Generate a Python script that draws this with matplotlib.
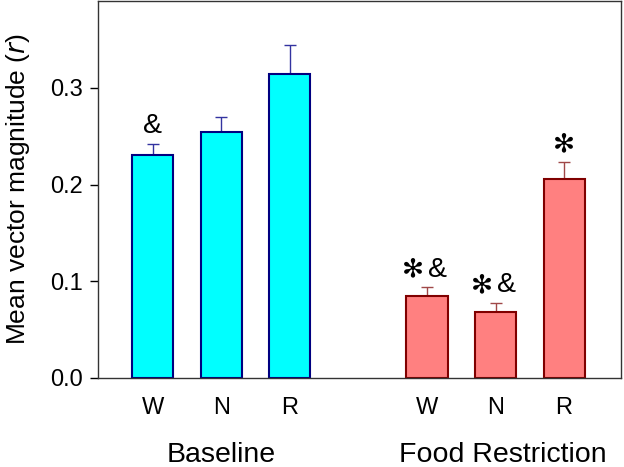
import matplotlib
matplotlib.use("Agg")
import matplotlib.pyplot as plt

plt.rcParams['font.family'] = ['Liberation Sans', 'DejaVu Sans']

categories = ["W", "N", "R"]
groups = ["Baseline", "Food Restriction"]
baseline_means = [0.231, 0.2545, 0.315]
baseline_sem = [0.0115, 0.015, 0.030]
food_means = [0.085, 0.0685, 0.206]
food_sem = [0.0087, 0.0087, 0.0176]
baseline_star = [False, False, False]
baseline_amp = [True, False, False]
food_star = [True, True, True]
food_amp = [True, True, False]

fig = plt.figure(figsize=(6.24, 4.67), dpi=100)
ax = fig.add_axes([98/624, 1 - 378/467, (621-98)/624, (378-1)/467])

pos_b = [0, 1, 2]
pos_f = [4, 5, 6]
w = 0.6

ax.bar(pos_b, baseline_means, width=w, color="#00FFFF", edgecolor="#000080", linewidth=1.5, zorder=2)
ax.errorbar(pos_b, baseline_means, yerr=[[0]*3, baseline_sem], fmt="none", ecolor="#3333A0",
            elinewidth=1.0, capsize=4, capthick=1.0, zorder=1)
ax.bar(pos_f, food_means, width=w, color="#FF8080", edgecolor="#800000", linewidth=1.5, zorder=2)
ax.errorbar(pos_f, food_means, yerr=[[0]*3, food_sem], fmt="none", ecolor="#A04848",
            elinewidth=1.0, capsize=4, capthick=1.0, zorder=1)

STAR = "✻"


def mark(p, top, star, amp):
    y = top + 0.0185
    if star and amp:
        ax.text(p - 0.2, y, STAR, ha="center", va="center", fontsize=19, family=["DejaVu Sans"])
        ax.text(p + 0.16, y, "&", ha="center", va="center", fontsize=20.5)
    elif star:
        ax.text(p, y, STAR, ha="center", va="center", fontsize=19, family=["DejaVu Sans"])
    elif amp:
        ax.text(p, y, "&", ha="center", va="center", fontsize=20.5)


for p, m, s, st, am in zip(pos_b, baseline_means, baseline_sem, baseline_star, baseline_amp):
    mark(p, m + s, st, am)
for p, m, s, st, am in zip(pos_f, food_means, food_sem, food_star, food_amp):
    mark(p, m + s, st, am)

ax.set_xlim(-0.8, 6.83)
ax.set_ylim(0, 0.39)
ax.set_yticks([0.0, 0.1, 0.2, 0.3])
ax.set_yticklabels(["0.0", "0.1", "0.2", "0.3"])
ax.set_xticks(pos_b + pos_f)
ax.set_xticklabels(categories + categories)
ax.tick_params(axis="x", length=0, pad=14, labelsize=17)
ax.tick_params(axis="y", length=6, width=1, labelsize=17, direction="out", pad=5)
for sp in ax.spines.values():
    sp.set_linewidth(1.0)
    sp.set_color("#333333")

ax.set_ylabel("Mean vector magnitude ($\\it{r}$)", fontsize=19, labelpad=13)

ax.text(1, -0.080, groups[0], ha="center", va="center", fontsize=20.5, clip_on=False)
ax.text(5.1, -0.080, groups[1], ha="center", va="center", fontsize=20.5, clip_on=False)

fig.savefig("out.png", dpi=100)
